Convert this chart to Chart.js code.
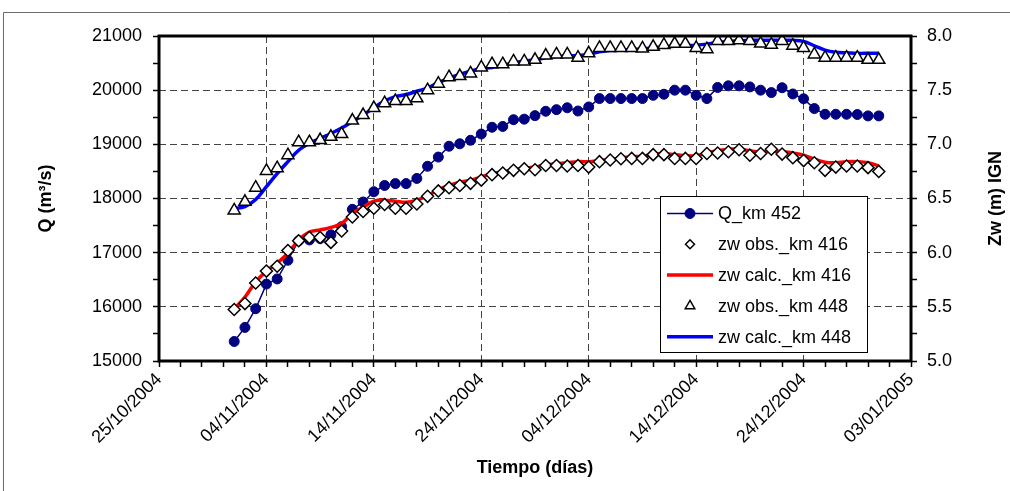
<!DOCTYPE html>
<html>
<head>
<meta charset="utf-8">
<script src="https://cdn.jsdelivr.net/npm/chart.js@4.4.1/dist/chart.umd.min.js"></script>
<style>
  html, body { margin: 0; padding: 0; background: #fff; }
  #wrap { position: relative; width: 1010px; height: 491px; }
</style>
</head>
<body>
<div id="wrap"><canvas id="chart"></canvas></div>
<script>
// axis start date and the tick labels every 10 days
const axisStart = '25/10/2004';
const tickLabels = ['25/10/2004', '04/11/2004', '14/11/2004', '24/11/2004',
    '04/12/2004', '14/12/2004', '24/12/2004', '03/01/2005'];

const dates = [
    '01/11/2004', '02/11/2004', '03/11/2004', '04/11/2004', '05/11/2004', '06/11/2004', '07/11/2004',
    '08/11/2004', '09/11/2004', '10/11/2004', '11/11/2004', '12/11/2004', '13/11/2004', '14/11/2004',
    '15/11/2004', '16/11/2004', '17/11/2004', '18/11/2004', '19/11/2004', '20/11/2004', '21/11/2004',
    '22/11/2004', '23/11/2004', '24/11/2004', '25/11/2004', '26/11/2004', '27/11/2004', '28/11/2004',
    '29/11/2004', '30/11/2004', '01/12/2004', '02/12/2004', '03/12/2004', '04/12/2004', '05/12/2004',
    '06/12/2004', '07/12/2004', '08/12/2004', '09/12/2004', '10/12/2004', '11/12/2004', '12/12/2004',
    '13/12/2004', '14/12/2004', '15/12/2004', '16/12/2004', '17/12/2004', '18/12/2004', '19/12/2004',
    '20/12/2004', '21/12/2004', '22/12/2004', '23/12/2004', '24/12/2004', '25/12/2004', '26/12/2004',
    '27/12/2004', '28/12/2004', '29/12/2004', '30/12/2004', '31/12/2004'
];

// Q_km 452 (m3/s)
const qKm452 = [
    15360, 15620, 15965, 16420, 16515, 16860, 17220, 17235, 17260, 17330, 17480, 17800, 17935, 18125,
    18240, 18275, 18275, 18370, 18595, 18765, 18965, 19010, 19075, 19190, 19315, 19330, 19455, 19465,
    19530, 19610, 19640, 19675, 19615, 19690, 19845, 19845, 19845, 19845, 19845, 19905, 19925, 20000,
    20000, 19905, 19845, 20050, 20080, 20080, 20060, 20000, 19955, 20045, 19930, 19840, 19660, 19555,
    19555, 19555, 19550, 19525, 19525
];

// zw observed / calculated (m IGN)
const zwObs416 = [
    5.475, 5.53, 5.72, 5.83, 5.875, 6.02, 6.11, 6.14, 6.14, 6.095, 6.20, 6.33, 6.38, 6.41,
    6.445, 6.41, 6.41, 6.45, 6.52, 6.57, 6.60, 6.62, 6.64, 6.67, 6.72, 6.735, 6.76, 6.775,
    6.765, 6.805, 6.805, 6.80, 6.805, 6.79, 6.84, 6.855, 6.867, 6.87, 6.87, 6.905, 6.905, 6.87,
    6.87, 6.87, 6.915, 6.92, 6.932, 6.95, 6.90, 6.915, 6.955, 6.91, 6.877, 6.85, 6.83, 6.76,
    6.79, 6.80, 6.80, 6.785, 6.75
];
const zwCalc416 = [
    5.48, 5.59, 5.73, 5.83, 5.905, 5.995, 6.115, 6.19, 6.21, 6.233, 6.27, 6.36, 6.42, 6.475,
    6.485, 6.475, 6.465, 6.485, 6.525, 6.58, 6.62, 6.65, 6.67, 6.70, 6.73, 6.745, 6.765, 6.78,
    6.79, 6.81, 6.82, 6.83, 6.84, 6.84, 6.85, 6.86, 6.875, 6.885, 6.89, 6.91, 6.915, 6.905,
    6.895, 6.895, 6.92, 6.94, 6.955, 6.955, 6.94, 6.93, 6.935, 6.935, 6.92, 6.90, 6.865, 6.835,
    6.83, 6.84, 6.84, 6.83, 6.80
];
const zwObs448 = [
    6.39, 6.47, 6.60, 6.755, 6.78, 6.90, 7.02, 7.02, 7.04, 7.07, 7.095, 7.22, 7.27, 7.335,
    7.38, 7.40, 7.40, 7.425, 7.50, 7.56, 7.62, 7.63, 7.655, 7.71, 7.74, 7.74, 7.765, 7.765,
    7.78, 7.82, 7.83, 7.83, 7.80, 7.84, 7.89, 7.89, 7.89, 7.89, 7.885, 7.90, 7.918, 7.928,
    7.928, 7.89, 7.878, 7.955, 7.955, 7.96, 7.955, 7.93, 7.92, 7.955, 7.91, 7.89, 7.83, 7.80,
    7.80, 7.80, 7.80, 7.78, 7.78
];
const zwCalc448 = [
    6.41, 6.425, 6.49, 6.61, 6.73, 6.84, 6.945, 7.01, 7.055, 7.10, 7.15, 7.21, 7.27, 7.34,
    7.40, 7.44, 7.46, 7.49, 7.52, 7.57, 7.61, 7.645, 7.675, 7.70, 7.71, 7.73, 7.75, 7.77,
    7.78, 7.80, 7.81, 7.815, 7.82, 7.83, 7.855, 7.865, 7.87, 7.875, 7.88, 7.89, 7.90, 7.905,
    7.91, 7.915, 7.925, 7.94, 7.95, 7.955, 7.96, 7.96, 7.96, 7.96, 7.96, 7.95, 7.91, 7.87,
    7.85, 7.845, 7.84, 7.84, 7.84
];

const FONT = "'Liberation Sans', Arial, sans-serif";

function dayNumber(str) {
    const [d, m, y] = str.split('/').map(Number);
    const [d0, m0, y0] = axisStart.split('/').map(Number);
    return Math.round((Date.UTC(y, m - 1, d) - Date.UTC(y0, m0 - 1, d0)) / 86400000);
}

function toPoints(values) {
    return dates.map((s, i) => ({ x: dayNumber(s), y: values[i] }));
}

// frame of the plot area, outer frame, right-hand title and the boxed legend
const decorations = {
    id: 'decorations',
    afterDraw(chart) {
        const { ctx, chartArea: a } = chart;
        ctx.save();

        ctx.strokeStyle = '#6b6b6b';
        ctx.lineWidth = 1;
        ctx.beginPath();
        ctx.moveTo(3.5, 491);
        ctx.lineTo(3.5, 12.5);
        ctx.lineTo(1010, 12.5);
        ctx.stroke();

        ctx.strokeStyle = '#000';
        ctx.lineWidth = 3;
        ctx.strokeRect(a.left, a.top, a.right - a.left, a.bottom - a.top);

        ctx.save();
        ctx.translate(996, (a.top + a.bottom) / 2);
        ctx.rotate(-Math.PI / 2);
        ctx.fillStyle = '#000';
        ctx.font = `bold 18px ${FONT}`;
        ctx.textAlign = 'center';
        ctx.textBaseline = 'middle';
        ctx.fillText('Zw (m) IGN', 0, 0);
        ctx.restore();

        const bx = 660, by = 196, bw = 207, bh = 156;
        ctx.fillStyle = '#fff';
        ctx.fillRect(bx, by, bw, bh);
        ctx.strokeStyle = '#000';
        ctx.lineWidth = 1;
        ctx.strokeRect(bx + 0.5, by + 0.5, bw, bh);

        chart.data.datasets.forEach((ds, i) => {
            const cy = by + 17.5 + i * 30.8;
            if (ds.showLine !== false) {
                ctx.strokeStyle = ds.borderColor;
                ctx.lineWidth = ds.borderWidth;
                ctx.beginPath();
                ctx.moveTo(667, cy);
                ctx.lineTo(713, cy);
                ctx.stroke();
            }
            if (ds.pointRadius > 0) {
                ctx.fillStyle = ds.pointBackgroundColor;
                ctx.strokeStyle = ds.pointBorderColor;
                ctx.lineWidth = ds.pointBorderWidth;
                Chart.helpers.drawPoint(ctx, {
                    pointStyle: ds.pointStyle,
                    radius: ds.legendRadius,
                    rotation: 0,
                    borderWidth: ds.pointBorderWidth
                }, 690, cy);
            }
            ctx.fillStyle = '#000';
            ctx.font = `18px ${FONT}`;
            ctx.textAlign = 'left';
            ctx.textBaseline = 'middle';
            ctx.fillText(ds.label, 718, cy + 1);
        });
        ctx.restore();
    }
};

const gridColor = (step) => (ctx) => {
    const v = ctx.tick ? ctx.tick.value : null;
    if (v === null) return 'rgba(0,0,0,0)';
    return Math.abs(v / step - Math.round(v / step)) < 1e-6 ? '#444' : 'rgba(0,0,0,0)';
};

Chart.defaults.font.family = FONT;
Chart.defaults.font.size = 18;
Chart.defaults.color = '#000';

new Chart(document.getElementById('chart'), {
    type: 'line',
    data: {
        datasets: [
            {
                label: 'Q_km 452',
                data: toPoints(qKm452),
                yAxisID: 'yQ',
                borderColor: '#000080',
                borderWidth: 1.5,
                pointStyle: 'circle',
                pointRadius: 5,
                legendRadius: 5,
                pointBackgroundColor: '#000080',
                pointBorderColor: '#000080',
                pointBorderWidth: 1,
                tension: 0,
                order: 5
            },
            {
                label: 'zw obs._km 416',
                data: toPoints(zwObs416),
                yAxisID: 'yZ',
                showLine: false,
                pointStyle: 'rectRot',
                pointRadius: 6,
                legendRadius: 4.5,
                pointBackgroundColor: '#fff',
                pointBorderColor: '#000',
                pointBorderWidth: 1.5,
                order: 2
            },
            {
                label: 'zw calc._km 416',
                data: toPoints(zwCalc416),
                yAxisID: 'yZ',
                borderColor: '#ff0000',
                borderWidth: 3.5,
                pointRadius: 0,
                tension: 0.4,
                order: 4
            },
            {
                label: 'zw obs._km 448',
                data: toPoints(zwObs448),
                yAxisID: 'yZ',
                showLine: false,
                pointStyle: 'triangle',
                pointRadius: 7,
                legendRadius: 5.5,
                pointBackgroundColor: '#fff',
                pointBorderColor: '#000',
                pointBorderWidth: 1.5,
                order: 1
            },
            {
                label: 'zw calc._km 448',
                data: toPoints(zwCalc448),
                yAxisID: 'yZ',
                borderColor: '#0000ff',
                borderWidth: 3.5,
                pointRadius: 0,
                tension: 0.4,
                order: 3
            }
        ]
    },
    options: {
        responsive: true,
        maintainAspectRatio: false,
        animation: false,
        events: [],
        layout: { padding: { top: 36, left: 0, right: 0, bottom: 0 } },
        plugins: {
            legend: { display: false },
            tooltip: { enabled: false }
        },
        scales: {
            x: {
                type: 'linear',
                min: 0,
                max: 70,
                afterFit: (s) => { s.height = 130; },
                border: { display: false, dash: [7, 4] },
                grid: {
                    color: gridColor(10),
                    lineWidth: 1,
                    tickColor: '#000',
                    tickWidth: 1.5,
                    tickLength: 6
                },
                ticks: {
                    stepSize: 2,
                    autoSkip: false,
                    maxRotation: 45,
                    minRotation: 45,
                    padding: 2,
                    callback: (v) => (v % 10 === 0 ? tickLabels[v / 10] : '')
                },
                title: {
                    display: true,
                    text: 'Tiempo (días)',
                    font: { size: 18, weight: 'bold' },
                    padding: { top: 0, bottom: 12 }
                }
            },
            yQ: {
                position: 'left',
                min: 15000,
                max: 21000,
                afterFit: (s) => { s.width = 159; },
                border: { display: false, dash: [7, 4] },
                grid: {
                    color: gridColor(1000),
                    lineWidth: 1,
                    tickColor: '#000',
                    tickWidth: 1.5,
                    tickLength: 6
                },
                ticks: {
                    stepSize: 500,
                    padding: 11,
                    callback: (v) => (v % 1000 === 0 ? String(v) : '')
                },
                title: {
                    display: true,
                    text: 'Q (m³/s)',
                    font: { size: 18, weight: 'bold' },
                    padding: { top: 35, bottom: 0 }
                }
            },
            yZ: {
                position: 'right',
                min: 5,
                max: 8,
                afterFit: (s) => { s.width = 99; },
                border: { display: false },
                grid: {
                    drawOnChartArea: false,
                    tickColor: '#000',
                    tickWidth: 1.5,
                    tickLength: 6
                },
                ticks: {
                    stepSize: 0.25,
                    padding: 10,
                    callback: (v) => (Math.abs(v * 2 - Math.round(v * 2)) < 1e-6 ? v.toFixed(1) : '')
                }
            }
        }
    },
    plugins: [decorations]
});
</script>
</body>
</html>
